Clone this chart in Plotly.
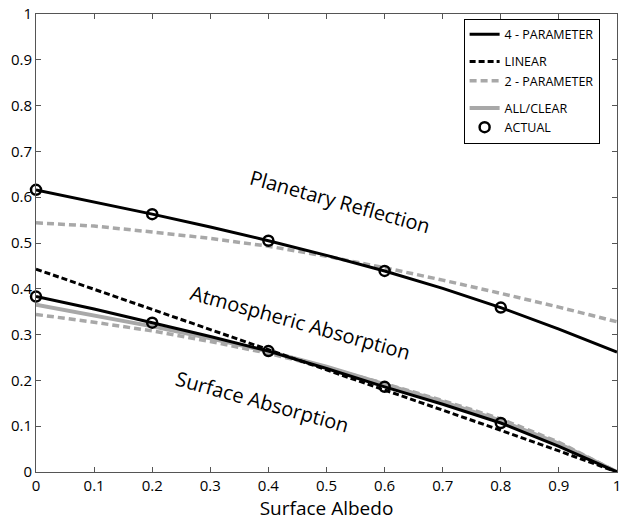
import plotly.graph_objects as go

albedo = [0.0, 0.1, 0.2, 0.3, 0.4, 0.5, 0.6, 0.7, 0.8, 0.9, 1.0]

# Upper curves (planetary reflection boundary)
four_param_upper = [0.616, 0.590, 0.563, 0.535, 0.505, 0.473, 0.439, 0.401, 0.359, 0.312, 0.262]
two_param_upper = [0.544, 0.537, 0.524, 0.510, 0.493, 0.471, 0.446, 0.419, 0.390, 0.360, 0.328]

# Lower curves (surface absorption boundary)
four_param_lower = [0.383, 0.356, 0.326, 0.296, 0.264, 0.226, 0.186, 0.148, 0.107, 0.056, 0.0]
two_param_lower = [0.344, 0.327, 0.308, 0.285, 0.259, 0.228, 0.193, 0.156, 0.116, 0.065, 0.0]
all_clear_lower = [0.365, 0.342, 0.318, 0.292, 0.263, 0.230, 0.192, 0.153, 0.112, 0.062, 0.0]
linear_lower = [0.443, 0.399, 0.355, 0.312, 0.268, 0.224, 0.179, 0.135, 0.091, 0.046, 0.0]

actual_x = [0.0, 0.2, 0.4, 0.6, 0.8]
actual_upper = [0.616, 0.563, 0.505, 0.439, 0.359]
actual_lower = [0.383, 0.326, 0.264, 0.186, 0.107]

x_ticks = [0, 0.1, 0.2, 0.3, 0.4, 0.5, 0.6, 0.7, 0.8, 0.9, 1]
y_ticks = [0, 0.1, 0.2, 0.3, 0.4, 0.5, 0.6, 0.7, 0.8, 0.9, 1]

GRAY = "#a8a8a8"
FONT = "Open Sans"

fig = go.Figure()

# 2-parameter (gray dashed)
fig.add_trace(go.Scatter(x=albedo, y=two_param_upper, mode="lines",
                         line=dict(color=GRAY, width=3.5, dash="7px,4px"),
                         name="2 - PARAMETER", legendgroup="g2", legendrank=3))
fig.add_trace(go.Scatter(x=albedo, y=two_param_lower, mode="lines",
                         line=dict(color=GRAY, width=3.5, dash="7px,4px"),
                         showlegend=False, legendgroup="g2"))
# All/clear (gray solid)
fig.add_trace(go.Scatter(x=albedo, y=all_clear_lower, mode="lines",
                         line=dict(color=GRAY, width=4),
                         name="ALL/CLEAR", legendgroup="g3", legendrank=4))
# Linear (black dashed)
fig.add_trace(go.Scatter(x=albedo, y=linear_lower, mode="lines",
                         line=dict(color="black", width=3, dash="6px,3px"),
                         name="LINEAR", legendgroup="g2", legendrank=2))
# 4-parameter (black solid)
fig.add_trace(go.Scatter(x=albedo, y=four_param_upper, mode="lines",
                         line=dict(color="black", width=3),
                         name="4 - PARAMETER", legendgroup="g1", legendrank=1))
fig.add_trace(go.Scatter(x=albedo, y=four_param_lower, mode="lines",
                         line=dict(color="black", width=3),
                         showlegend=False, legendgroup="g1"))
# Actual (open circles)
fig.add_trace(go.Scatter(x=actual_x, y=actual_upper, mode="markers",
                         marker=dict(symbol="circle-open", size=10, color="black",
                                     line=dict(width=2.5, color="black")),
                         name="ACTUAL", legendgroup="g3", legendrank=5, cliponaxis=False))
fig.add_trace(go.Scatter(x=actual_x, y=actual_lower, mode="markers",
                         marker=dict(symbol="circle-open", size=10, color="black",
                                     line=dict(width=2.5, color="black")),
                         showlegend=False, legendgroup="g3", cliponaxis=False))

labels = [
    ("Planetary Reflection", 0.523, 0.590),
    ("Atmospheric Absorption", 0.456, 0.327),
    ("Surface Absorption", 0.389, 0.153),
]
for txt, lx, ly in labels:
    fig.add_annotation(x=lx, y=ly, text=txt, showarrow=False, textangle=15.5,
                       font=dict(family=FONT, size=20, color="black"))

axis_common = dict(range=[0, 1], showgrid=False, zeroline=False, showline=True,
                   linecolor="#555555", linewidth=1, mirror="ticks", ticks="inside",
                   ticklen=5, tickcolor="#555555", automargin=False,
                   ticklabeloverflow="allow",
                   tickfont=dict(family=FONT, size=15, color="black"))

fig.update_xaxes(tickvals=x_ticks, ticktext=[f"{v:g}" for v in x_ticks],
                 title=dict(text="Surface Albedo", font=dict(family=FONT, size=19, color="black"),
                            standoff=9),
                 **axis_common)
fig.update_yaxes(tickvals=y_ticks, ticktext=[f"{v:g}" for v in y_ticks], ticklabelstandoff=0,
                 **axis_common)

fig.update_layout(
    width=621, height=521,
    margin=dict(l=36, r=4, t=14, b=49),
    paper_bgcolor="white", plot_bgcolor="white",
    showlegend=True,
    legend=dict(x=0.736, y=0.99, xanchor="left", yanchor="top",
                bgcolor="white", bordercolor="black", borderwidth=1,
                font=dict(family=FONT, size=12.5, color="black"),
                traceorder="grouped", tracegroupgap=8, itemwidth=30),
)

fig.write_html("out.html", post_script="document.body.style.margin='0';",
               config={"displayModeBar": False})
